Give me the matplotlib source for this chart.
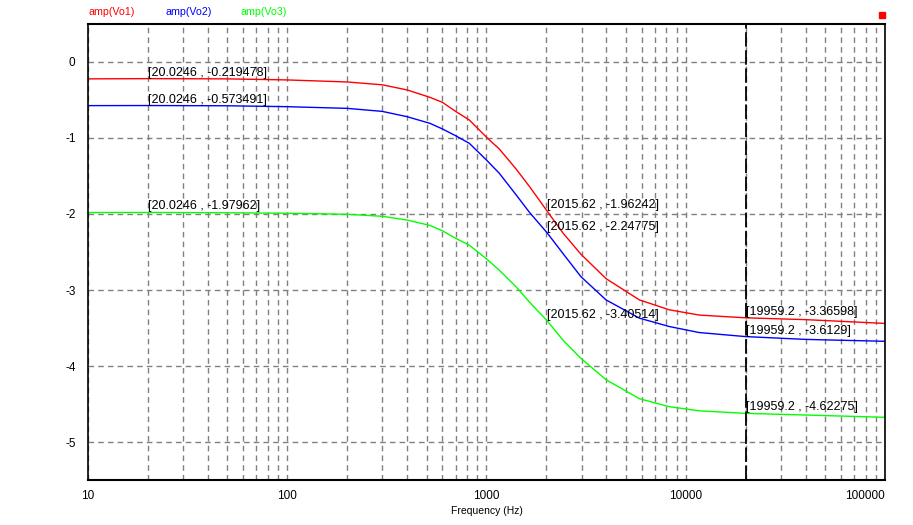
import matplotlib.pyplot as plt
from matplotlib.patches import Rectangle

# frequency points (Hz) and amplitudes
freq = [10, 20, 50, 100, 200, 300, 400, 520, 600, 700, 820, 1000, 1160, 1410,
        1645, 2015.62, 2420, 2980, 3980, 5850, 8250, 11700, 19959.2, 40000, 100000]
vo1 = [-0.222, -0.219, -0.222, -0.236, -0.263, -0.30, -0.368, -0.465, -0.53, -0.65,
       -0.763, -0.99, -1.145, -1.41, -1.64, -1.962, -2.25, -2.53, -2.85, -3.13,
       -3.26, -3.33, -3.366, -3.39, -3.44]
vo2 = [-0.574, -0.573, -0.576, -0.588, -0.61, -0.65, -0.72, -0.807, -0.88, -0.97,
       -1.07, -1.29, -1.465, -1.75, -1.98, -2.248, -2.52, -2.825, -3.13, -3.37,
       -3.48, -3.56, -3.613, -3.65, -3.675]
vo3 = [-1.981, -1.980, -1.984, -1.99, -2.004, -2.03, -2.08, -2.15, -2.22, -2.32,
       -2.41, -2.59, -2.74, -2.96, -3.16, -3.405, -3.66, -3.90, -4.18, -4.43,
       -4.535, -4.59, -4.623, -4.645, -4.675]

# cursor readouts
marks = [(20.0246, -0.219478), (20.0246, -0.573491), (20.0246, -1.97962),
         (2015.62, -1.96242), (2015.62, -2.24775), (2015.62, -3.40514),
         (19959.2, -3.36598), (19959.2, -3.6129), (19959.2, -4.62275)]
mark_labels = ['[20.0246 , -0.219478]', '[20.0246 , -0.573491]', '[20.0246 , -1.97962]',
               '[2015.62 , -1.96242]', '[2015.62 , -2.24775]', '[2015.62 , -3.40514]',
               '[19959.2 , -3.36598]', '[19959.2 , -3.6129]', '[19959.2 , -4.62275]']

names = ['amp(Vo1)', 'amp(Vo2)', 'amp(Vo3)']
colors = ['#ff0000', '#0000ff', '#00ff00']

plt.rcParams['font.family'] = ['Liberation Sans', 'DejaVu Sans']

fig = plt.figure(figsize=(9.13, 5.25), dpi=100)
ax = fig.add_axes([0.0964, 0.0857, 0.8729, 0.8686])

for vals, c in zip([vo1, vo2, vo3], colors):
    ax.plot(freq, vals, color=c, lw=1)

ax.set_xscale('log')
ax.set_xlim(10, 100000)
ax.set_ylim(-5.5, 0.5)
ax.set_yticks([0, -1, -2, -3, -4, -5])
ax.set_yticklabels(['0', '-1', '-2', '-3', '-4', '-5'])
ax.set_xticks([10, 100, 1000, 10000, 100000])
ax.set_xticklabels(['10', '100', '1000', '10000', '100000'])
ax.tick_params(axis='both', which='both', length=0, labelsize=8.5)
ax.tick_params(axis='y', pad=9)
ax.tick_params(axis='x', pad=7)
ax.get_xticklabels()[-1].set_horizontalalignment('right')

ax.grid(True, which='both', axis='x', color='#808080', ls=(0, (4, 3)), lw=1)
ax.grid(True, which='major', axis='y', color='#808080', ls=(0, (4, 3)), lw=1)

for s in ['top', 'bottom']:
    ax.spines[s].set_linewidth(1.5)
for s in ['left', 'right']:
    ax.spines[s].set_linestyle((0, (3, 1)))
    ax.spines[s].set_linewidth(1.2)

# cursor line
ax.axvline(19959.2, color='black', lw=1.3, ls=(0, (8, 2)))

for (x, y), t in zip(marks, mark_labels):
    ax.text(x, y, t, fontsize=9, ha='left', va='bottom')

ax.set_xlabel('Frequency (Hz)', fontsize=7.5, labelpad=3)

legend_x = [88, 165, 240]
for name, c, lx in zip(names, colors, legend_x):
    fig.text(lx / 913, 1 - 12 / 525, name, color=c, fontsize=7.7, va='center')

fig.patches.append(Rectangle((879 / 913, 1 - 18 / 525), 6 / 913, 6 / 525,
                             transform=fig.transFigure, color='#ff0000'))

fig.savefig('out.png', dpi=100)
